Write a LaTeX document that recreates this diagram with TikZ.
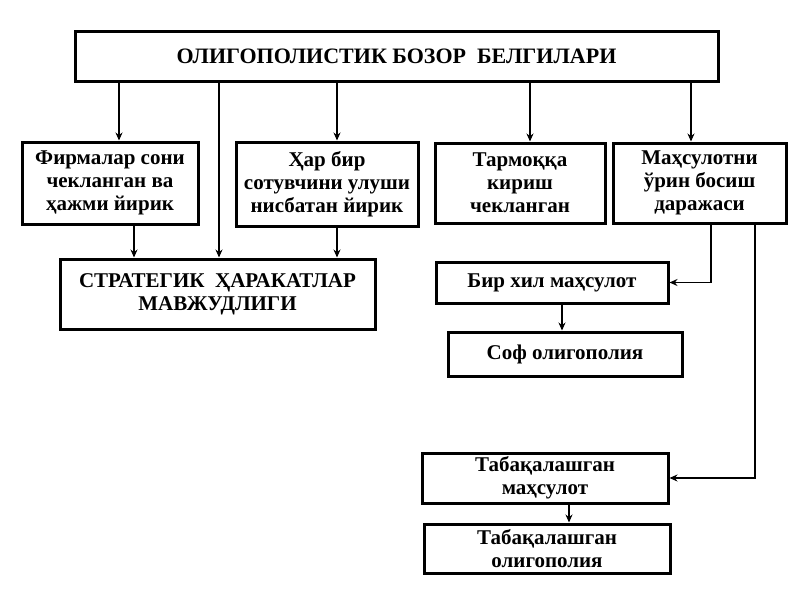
\documentclass[tikz,border=0pt]{standalone}
\usepackage{fontspec}
\setmainfont{Liberation Serif}
\usetikzlibrary{arrows.meta}

\begin{document}
\begin{tikzpicture}[x=1pt,y=-1pt,->,>={Stealth[length=8pt,width=7pt]},line width=1.5pt,
  box/.style={draw,line width=3pt,rectangle,align=center,inner sep=1pt,font=\fontsize{21}{23}\selectfont\bfseries},
  title box/.style={box,font=\fontsize{22}{24}\selectfont\bfseries}]
  \useasboundingbox (0,0) rectangle (800,600);

  \node[title box,minimum width=643pt,minimum height=50pt] (top) at (396.5,56) {ОЛИГОПОЛИСТИК БОЗОР\ \ БЕЛГИЛАРИ};
  \node[box,minimum width=176pt,minimum height=82pt] (firm) at (110,183) {Фирмалар сони\\чекланган ва\\ҳажми йирик};
  \node[box,minimum width=182pt,minimum height=84pt] (share) at (327,184) {Ҳар бир\\сотувчини улуши\\нисбатан йирик};
  \node[box,minimum width=170pt,minimum height=80pt] (entry) at (520,183) {Тармоққа\\кириш\\чекланган};
  \node[box,minimum width=173pt,minimum height=80pt] (subst) at (699.5,183) {Маҳсулотни\\ўрин босиш\\даражаси};
  \node[box,minimum width=315pt,minimum height=70pt] (strat) at (217.5,294) {СТРАТЕГИК\ \ ҲАРАКАТЛАР\\МАВЖУДЛИГИ};
  \node[box,minimum width=232pt,minimum height=41pt] (homog) at (552,282.5) {Бир хил маҳсулот};
  \node[box,minimum width=234pt,minimum height=44pt] (pure) at (565,354) {Соф олигополия};
  \node[box,minimum width=246pt,minimum height=50pt] (diffp) at (545,478) {Табақалашган\\маҳсулот};
  \node[box,minimum width=246pt,minimum height=49pt] (diffo) at (547,548.5) {Табақалашган\\олигополия};

\path
  (top.south -| 119,0) edge (firm.north -| 119,0)
  (top.south -| 219,0) edge (strat.north -| 219,0)
  (top.south -| 337,0) edge (share.north -| 337,0)
  (top.south -| 530,0) edge (entry.north -| 530,0)
  (top.south -| 691,0) edge (subst.north -| 691,0)
  (firm.south -| 134,0) edge (strat.north -| 134,0)
  (share.south -| 337,0) edge (strat.north -| 337,0)
  (homog.south -| 562,0) edge (pure.north -| 562,0)
  (diffp.south -| 569,0) edge (diffo.north -| 569,0)
;
  \draw (subst.south -| 711,0) |- (homog.east);
  \draw (subst.south -| 755,0) |- (diffp.east);
\end{tikzpicture}
\end{document}
